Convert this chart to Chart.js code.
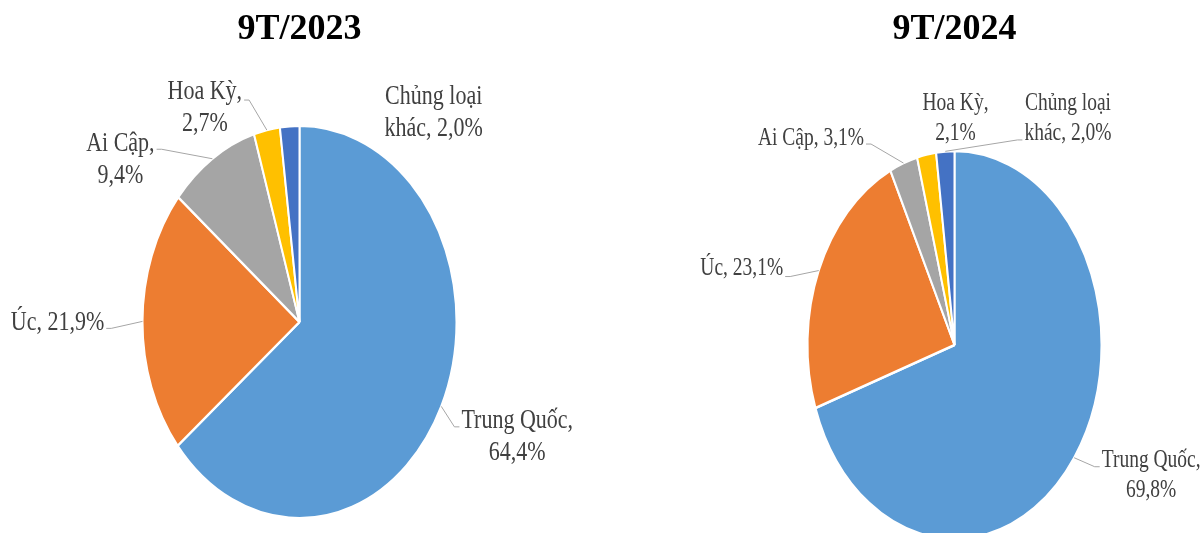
<!DOCTYPE html>
<html>
<head>
<meta charset="utf-8">
<script src="https://cdn.jsdelivr.net/npm/chart.js@4.4.1/dist/chart.umd.min.js"></script>
<style>
  body { margin: 0; background: #fff; }
  #wrap { position: relative; width: 1203px; height: 533px; }
  canvas { position: absolute; top: 0; }
</style>
</head>
<body>
<div id="wrap">
  <canvas id="pie2023" width="600" height="533" style="left:0"></canvas>
  <canvas id="pie2024" width="603" height="533" style="left:600px"></canvas>
</div>
<script>
// du lieu co cau thi truong (%)
const categories = ['Trung Quốc', 'Úc', 'Ai Cập', 'Hoa Kỳ', 'Chủng loại khác'];
const share2023 = [64.4, 21.9, 9.4, 2.7, 2.0];
const share2024 = [69.8, 23.1, 3.1, 2.1, 2.0];
const titles = ['9T/2023', '9T/2024'];
const colors = ['#5B9BD5', '#ED7D31', '#A5A5A5', '#FFC000', '#4472C4'];

// pie hinh elip (anh goc bi keo gian doc) + nhan co duong dan
const pieLabels = {
    id: 'pieLabels',
    beforeDatasetsDraw(chart, args, opts) {
        const arc = chart.getDatasetMeta(0).data[0];
        const ctx = chart.ctx;
        ctx.save();
        ctx.translate(arc.x, arc.y);
        ctx.scale(1, opts.stretchY);
        ctx.translate(-arc.x, -arc.y);
    },
    afterDatasetsDraw(chart, args, opts) {
        const ctx = chart.ctx;
        ctx.restore();
        const k = opts.stretchY;
        const values = chart.data.datasets[0].data;
        chart.getDatasetMeta(0).data.forEach((arc, i) => {
            const p = opts.place[i];
            const mid = (arc.startAngle + arc.endAngle) / 2;
            const ex = arc.x + Math.cos(mid) * arc.outerRadius;
            const ey = arc.y + Math.sin(mid) * arc.outerRadius * k;
            const cx = ex + p[0], cy = ey + p[1];
            ctx.save();
            ctx.font = opts.fontSize + 'px "Liberation Serif"';
            const text = chart.data.labels[i] + ', ' + values[i].toFixed(1).replace('.', ',') + '%';
            const lines = [];
            let line = '';
            text.split(' ').forEach(w => {
                const t = line ? line + ' ' + w : w;
                if (line && ctx.measureText(t).width > opts.maxWidth) {
                    lines.push(line);
                    line = w;
                } else {
                    line = t;
                }
            });
            lines.push(line);
            const boxW = Math.max(...lines.map(l => ctx.measureText(l).width));
            const first = cy - (lines.length - 1) * opts.lineGap / 2;
            ctx.fillStyle = '#404040';
            ctx.textAlign = 'center';
            ctx.textBaseline = 'middle';
            lines.forEach((l, j) => {
                ctx.save();
                ctx.translate(cx, first + j * opts.lineGap);
                ctx.scale(1, k);
                ctx.fillText(l, 0, 0);
                ctx.restore();
            });
            if (p[2]) {
                const dir = p[2] === 'left' ? -1 : 1;
                const ax = cx + dir * (boxW / 2 + 2);
                const ay = cy + p[3];
                ctx.strokeStyle = '#A6A6A6';
                ctx.lineWidth = 1;
                ctx.beginPath();
                ctx.moveTo(ex, ey);
                ctx.lineTo(ax + dir * 5, ay);
                ctx.lineTo(ax, ay);
                ctx.stroke();
            }
            ctx.restore();
        });
    }
};

function makePie(id, title, values, cfg) {
    return new Chart(document.getElementById(id), {
        type: 'pie',
        data: {
            labels: categories,
            datasets: [{
                data: values,
                backgroundColor: colors,
                borderColor: '#ffffff',
                borderWidth: 2,
                radius: cfg.radius,
                clip: false
            }]
        },
        options: {
            responsive: false,
            animation: false,
            events: [],
            layout: { padding: cfg.padding },
            plugins: {
                legend: { display: false },
                tooltip: { enabled: false },
                title: {
                    display: true,
                    text: title,
                    color: '#000000',
                    font: { family: 'Liberation Serif', size: 36, weight: 'bold' },
                    padding: { top: 8, bottom: cfg.titleGap }
                },
                pieLabels: {
                    stretchY: cfg.stretchY,
                    fontSize: cfg.fontSize,
                    maxWidth: cfg.maxWidth,
                    lineGap: cfg.lineGap,
                    place: cfg.place
                }
            }
        },
        plugins: [pieLabels]
    });
}

makePie('pie2023', titles[0], share2023, {
    radius: 157,
    stretchY: 1.25,
    padding: { left: 0, right: 1, top: 0, bottom: 0 },
    titleGap: 59.8,
    fontSize: 22,
    maxWidth: 116,
    lineGap: 32,
    // [dx, dy, canh noi duong dan, lech y]
    place: [
        [76, 30.5, 'left', -10],
        [-85, 1, 'right', 6],
        [-92, 1, 'right', -10.5],
        [-62, -22, 'right', -8],
        [144, -13.6, null, 0]
    ]
});

makePie('pie2024', titles[1], share2024, {
    radius: 147,
    stretchY: 1.32,
    padding: { left: 106, right: 0, top: 0, bottom: 0 },
    titleGap: 105.8,
    fontSize: 19.5,
    maxWidth: 109,
    lineGap: 30,
    place: [
        [77, 18, 'left', -9],
        [-77, -2, 'right', 8],
        [-92.5, -25, 'right', 6],
        [29, -36.6, null, 0],
        [122.7, -33.4, 'left', 22]
    ]
});
</script>
</body>
</html>
